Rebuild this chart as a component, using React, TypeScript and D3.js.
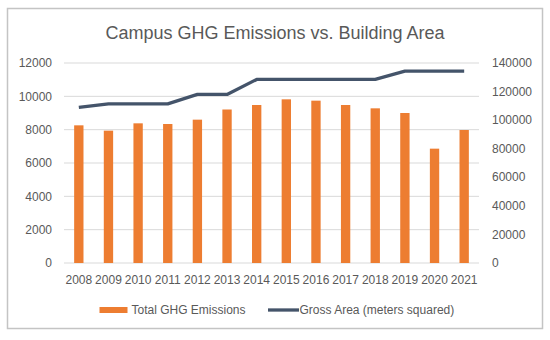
import React from 'react';
import * as d3 from 'd3';

const years = ['2008', '2009', '2010', '2011', '2012', '2013', '2014', '2015', '2016', '2017', '2018', '2019', '2020', '2021'];
const emissions = [8260, 7940, 8380, 8340, 8600, 9210, 9480, 9820, 9740, 9480, 9280, 9000, 6860, 7980];
const grossArea = [109000, 111400, 111400, 111400, 118000, 118000, 128500, 128500, 128500, 128500, 128500, 134300, 134300, 134300];
const leftTicks = [0, 2000, 4000, 6000, 8000, 10000, 12000];
const rightTicks = [0, 20000, 40000, 60000, 80000, 100000, 120000, 140000];

const W = 550;
const H = 340;
const font = '"Liberation Sans", Arial, sans-serif';
const grey = '#595959';

export default function App() {
  const margin = { left: 64, right: 479, top: 63, bottom: 263 };

  const x = d3.scaleBand<string>()
    .domain(years)
    .range([margin.left, margin.right])
    .paddingInner(0.685)
    .paddingOuter(0.3425);
  const yLeft = d3.scaleLinear().domain([0, 12000]).range([margin.bottom, margin.top]);
  const yRight = d3.scaleLinear().domain([0, 140000]).range([margin.bottom, margin.top]);

  const line = d3.line<number>()
    .x((d, i) => (x(years[i]) as number) + x.bandwidth() / 2)
    .y(d => yRight(d));

  return (
    <svg width={W} height={H} style={{ position: 'absolute', left: 0, top: 0, display: 'block', background: '#fff' }}>
      <rect x={7.5} y={8.5} width={535} height={320} fill="#fff" stroke="#c4c4c4" strokeWidth={1.5} />

      <text x={275} y={38.5} textAnchor="middle" fontFamily={font} fontSize={18} fill={grey}>
        Campus GHG Emissions vs. Building Area
      </text>

      {/* gridlines follow the left axis */}
      {leftTicks.map(t => (
        <line key={'g' + t} x1={margin.left} x2={margin.right} y1={yLeft(t)} y2={yLeft(t)}
          stroke="#d9d9d9" strokeWidth={1} />
      ))}

      {leftTicks.map(t => (
        <text key={'l' + t} x={52} y={yLeft(t)} dy="0.35em" textAnchor="end"
          fontFamily={font} fontSize={12} fill={grey}>{t}</text>
      ))}
      {rightTicks.map(t => (
        <text key={'r' + t} x={492} y={yRight(t)} dy="0.35em" textAnchor="start"
          fontFamily={font} fontSize={12} fill={grey}>{t}</text>
      ))}

      {emissions.map((v, i) => (
        <rect key={'b' + i} x={x(years[i])} y={yLeft(v)} width={x.bandwidth()}
          height={yLeft(0) - yLeft(v)} fill="#ED7D31" />
      ))}

      <path d={line(grossArea) || ''} fill="none" stroke="#44546A" strokeWidth={3.3} strokeLinejoin="round" />

      {years.map(yr => (
        <text key={'x' + yr} x={(x(yr) as number) + x.bandwidth() / 2} y={280} dy="0.35em"
          textAnchor="middle" fontFamily={font} fontSize={12} fill={grey}>{yr}</text>
      ))}

      <g fontFamily={font} fontSize={12} fill={grey}>
        <rect x={99.5} y={307} width={28} height={6} fill="#ED7D31" />
        <text x={131.5} y={310} dy="0.35em">Total GHG Emissions</text>
        <line x1={268} x2={299} y1={310} y2={310} stroke="#44546A" strokeWidth={3.3} />
        <text x={299.5} y={310} dy="0.35em">Gross Area (meters squared)</text>
      </g>
    </svg>
  );
}
